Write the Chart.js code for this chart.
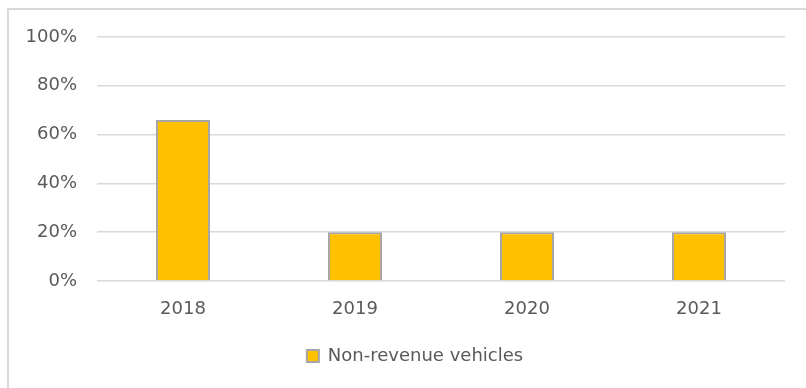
<!DOCTYPE html>
<html>
<head>
<meta charset="utf-8">
<script src="https://cdn.jsdelivr.net/npm/chart.js@4/dist/chart.umd.min.js"></script>
<style>
  html, body { margin: 0; padding: 0; background: #ffffff; overflow: hidden; }
  #wrap { position: relative; width: 806px; height: 388px; }
  #frame {
    position: absolute; left: 7px; top: 8px; width: 806px; height: 388px;
    border: 2px solid #d9d9d9; box-sizing: border-box; pointer-events: none;
  }
  canvas { position: absolute; left: 0; top: 0; }
</style>
</head>
<body>
<div id="wrap">
  <div id="frame"></div>
  <canvas id="chart" width="806" height="388"></canvas>
</div>
<script>
// Share of non-revenue vehicles per year
const years = ['2018', '2019', '2020', '2021'];
const nonRevenueShare = [66, 20, 20, 20];
const seriesName = 'Non-revenue vehicles';
const yTicks = [0, 20, 40, 60, 80, 100];

const textColor = '#595959';
const gridColor = '#d9d9d9';
const fontFamily = '"DejaVu Sans", sans-serif';

// Nudge the bottom legend so it sits a little right of the canvas centre
const legendShift = {
  id: 'legendShift',
  afterLayout(chart) {
    const lg = chart.legend;
    if (lg) { lg.left += 19; lg.right += 19; }
  }
};

new Chart(document.getElementById('chart'), {
  type: 'bar',
  data: {
    labels: years,
    datasets: [{
      label: seriesName,
      data: nonRevenueShare,
      backgroundColor: '#ffc000',
      borderColor: '#a6a6a6',
      borderWidth: 2,
      categoryPercentage: 1,
      barPercentage: 0.314
    }]
  },
  plugins: [legendShift],
  options: {
    responsive: false,
    animation: false,
    devicePixelRatio: 1,
    layout: { padding: { left: 7, right: 21, top: 37, bottom: 13 } },
    plugins: {
      tooltip: { enabled: false },
      legend: {
        position: 'bottom',
        labels: {
          color: textColor,
          font: { family: fontFamily, size: 18 },
          boxWidth: 12,
          boxHeight: 12,
          padding: 10
        }
      }
    },
    scales: {
      x: {
        grid: { display: false },
        border: { display: false },
        ticks: { color: textColor, font: { family: fontFamily, size: 18 }, padding: 10 },
        afterFit: (s) => { s.height = 56; }
      },
      y: {
        min: 0,
        max: 100,
        afterBuildTicks: (s) => { s.ticks = yTicks.map(v => ({ value: v })); },
        grid: { color: gridColor, lineWidth: 1.5, drawTicks: false },
        border: { display: false },
        ticks: {
          color: textColor,
          font: { family: fontFamily, size: 18 },
          padding: 20,
          callback: (v) => v + '%'
        },
        afterFit: (s) => { s.width = 90; }
      }
    }
  }
});
</script>
</body>
</html>
